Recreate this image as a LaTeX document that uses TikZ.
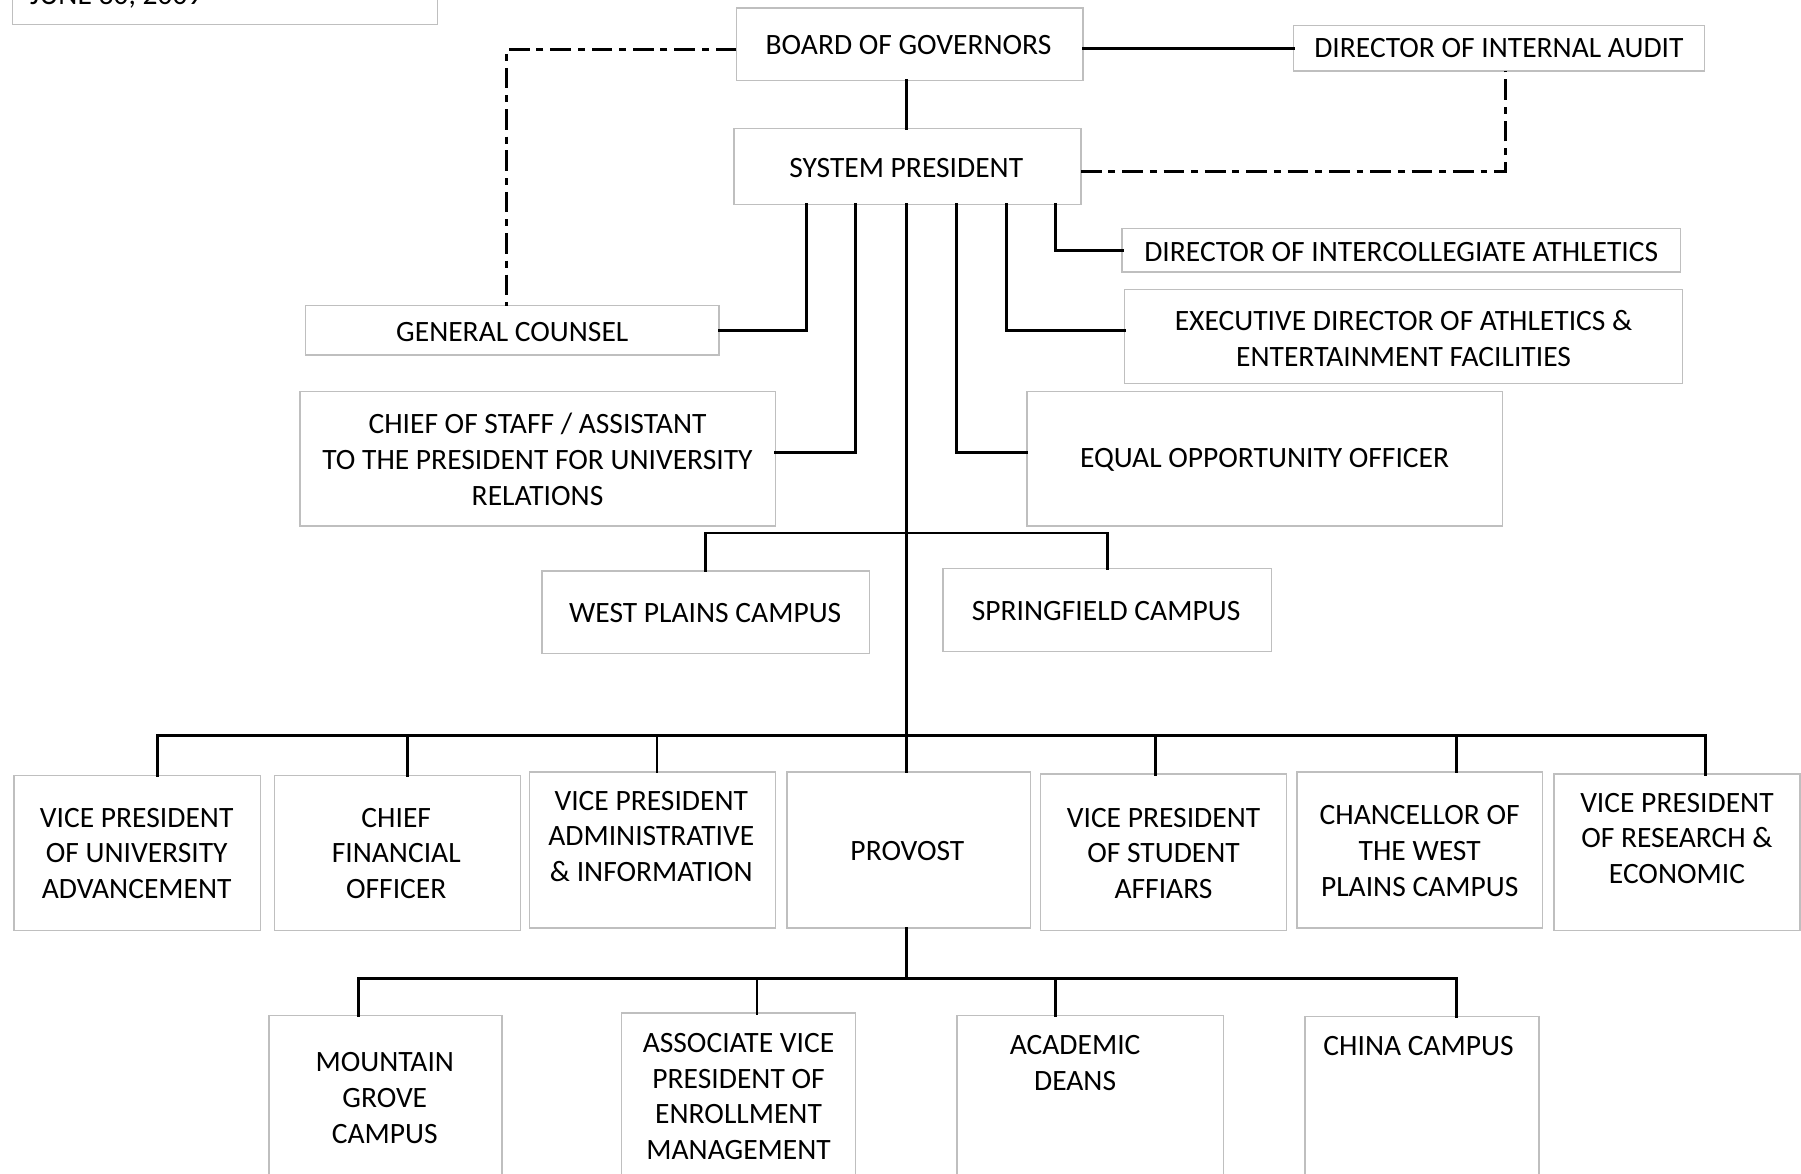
\documentclass[tikz,border=0pt]{standalone}
\usepackage{fontspec}
\setmainfont{Carlito}
\definecolor{boxgray}{HTML}{BFBFBF}
\newcommand\obox[8]{%
  \node[box, minimum width={#4-#2}, minimum height={#5-#3}] (#1) at ({(#2+#4)/2},{(#3+#5)/2}) {};
  \node[txt] (#1t) at (#6,#7) {#8};
}
\begin{document}
\begin{tikzpicture}[x=1pt,y=-1pt,
  box/.style={draw=boxgray, line width=1.3pt, inner sep=0pt, outer sep=0pt, fill=white},
  txt/.style={inner sep=0pt, align=center, font=\fontsize{25.7}{31}\selectfont},
  conn/.style={line width=2.5pt, black, line cap=rect},
  dd/.style={line width=2.5pt, black, dash pattern=on 18pt off 6pt on 6pt off 6pt}]
\useasboundingbox (0,0) rectangle (1568,1022);
\clip (0,0) rectangle (1568,1022);
\fill[white] (0,0) rectangle (1568,1022);

% ---------- coordinates for connector elbows ----------
\coordinate (dl) at (441,43);
\coordinate (dr) at (1311,149);
\coordinate (s1) at (702,178);
\coordinate (s2) at (745,178);
\coordinate (s4) at (833,178);
\coordinate (s5) at (876,178);
\coordinate (s6) at (919,178);
\coordinate (e1) at (702,288);
\coordinate (e2) at (745,394);
\coordinate (e4) at (833,394);
\coordinate (e5) at (876,288);
\coordinate (e6) at (919,218);
\coordinate (cb) at (789,464);
\coordinate (d1) at (137,640);
\coordinate (d2) at (355,640);
\coordinate (d3) at (572,640);
\coordinate (d4) at (789,640);
\coordinate (d5) at (1006,640);
\coordinate (d6) at (1268,640);
\coordinate (d7) at (1485,640);
\coordinate (pb) at (789,852);
\coordinate (p1) at (312,852);
\coordinate (p2) at (659,852);
\coordinate (p3) at (919,852);
\coordinate (p4) at (1268,852);

% ---------- boxes ----------
\node[box, minimum width=370.3, minimum height=81.5] (date) at (195.85,-19.25) {};
\node[txt, anchor=base west] (datet) at (26,3.5) {JUNE 30, 2009};

\obox{board}{641}{7}{943}{70}{791}{39}{BOARD OF GOVERNORS}
\obox{dia}{1126}{22}{1484}{62}{1305}{42}{DIRECTOR OF INTERNAL AUDIT}
\obox{sp}{639}{112}{941}{178}{789}{146}{SYSTEM PRESIDENT}
\obox{dica}{977}{199}{1463}{237}{1220}{219}{DIRECTOR OF INTERCOLLEGIATE ATHLETICS}
\obox{gc}{266}{266}{626}{309}{446}{289}{GENERAL COUNSEL}
\obox{edaef}{979}{252}{1465}{334}{1222}{294.5}{EXECUTIVE DIRECTOR OF ATHLETICS \&\\ENTERTAINMENT FACILITIES}
\obox{cos}{261}{341}{675}{458}{468}{400}{CHIEF OF STAFF / ASSISTANT\\TO THE PRESIDENT FOR UNIVERSITY\\RELATIONS}
\obox{eoo}{894}{341}{1308}{458}{1101}{400}{EQUAL OPPORTUNITY OFFICER}
\obox{wp}{472}{497}{757}{569}{614}{534}{WEST PLAINS CAMPUS}
\obox{sf}{821}{495}{1107}{567}{963}{532}{SPRINGFIELD CAMPUS}

\obox{vpua}{12}{675}{227}{810}{119}{743}{VICE PRESIDENT\\OF UNIVERSITY\\ADVANCEMENT}
\obox{cfo}{239}{675}{453}{810}{345}{743}{CHIEF\\FINANCIAL\\OFFICER}
\obox{vpai}{461}{672}{675}{808}{567}{728}{VICE PRESIDENT\\ADMINISTRATIVE\\\& INFORMATION}
\obox{prov}{685}{672}{897}{808}{790}{741}{PROVOST}
\obox{vpsa}{906}{674}{1120}{810}{1013}{743}{VICE PRESIDENT\\OF STUDENT\\AFFIARS}
\obox{chan}{1129}{672}{1343}{808}{1236}{741}{CHANCELLOR OF\\THE WEST\\PLAINS CAMPUS}
\obox{vpre}{1353}{674}{1567}{810}{1460}{730}{VICE PRESIDENT\\OF RESEARCH \&\\ECONOMIC}

\obox{mgc}{234}{884}{437}{1060}{335}{956}{MOUNTAIN\\GROVE\\CAMPUS}
\obox{avp}{541}{882}{745}{1060}{643}{954.5}{ASSOCIATE VICE\\PRESIDENT OF\\ENROLLMENT\\MANAGEMENT}
\obox{ad}{833}{884}{1065}{1060}{936}{925.5}{ACADEMIC\\DEANS}
\obox{china}{1136}{885}{1340}{1060}{1235}{911}{CHINA CAMPUS}

% ---------- connectors ----------
\draw[conn] (board.east |- dia.west) -- (dia.west);
\draw[dd] (board.west |- dl) -- (dl) -- (dl |- gc.north);
\draw[conn] (d4 |- board.south) -- (d4 |- sp.north);
\draw[dd] (sp.east |- dr) -- (dr) -- (dr |- dia.south);

\draw[conn] (s1) -- (e1) -- (e1 -| gc.east);
\draw[conn] (s2) -- (e2) -- (e2 -| cos.east);
\draw[conn] (s4) -- (e4) -- (e4 -| eoo.west);
\draw[conn] (s5) -- (e5) -- (e5 -| edaef.west);
\draw[conn] (s6) -- (e6) -- (e6 -| dica.west);

\draw[conn] (d4 |- sp.south) -- (d4 |- prov.north);
\draw[conn] (wp.north) |- (cb) -| (sf.north);

\draw[conn] (d1) -- (d7);
\draw[conn] (d1) -- (d1 |- vpua.north);
\draw[conn] (d2) -- (d2 |- cfo.north);
\draw[conn] (d3) -- (d3 |- vpai.north);
\draw[conn] (d5) -- (d5 |- vpsa.north);
\draw[conn] (d6) -- (d6 |- chan.north);
\draw[conn] (d7) -- (d7 |- vpre.north);

\draw[conn] (pb |- prov.south) -- (pb);
\draw[conn] (p1) -- (p4);
\draw[conn] (p1) -- (p1 |- mgc.north);
\draw[conn] (p2) -- (p2 |- avp.north);
\draw[conn] (p3) -- (p3 |- ad.north);
\draw[conn] (p4) -- (p4 |- china.north);
\end{tikzpicture}
\end{document}
